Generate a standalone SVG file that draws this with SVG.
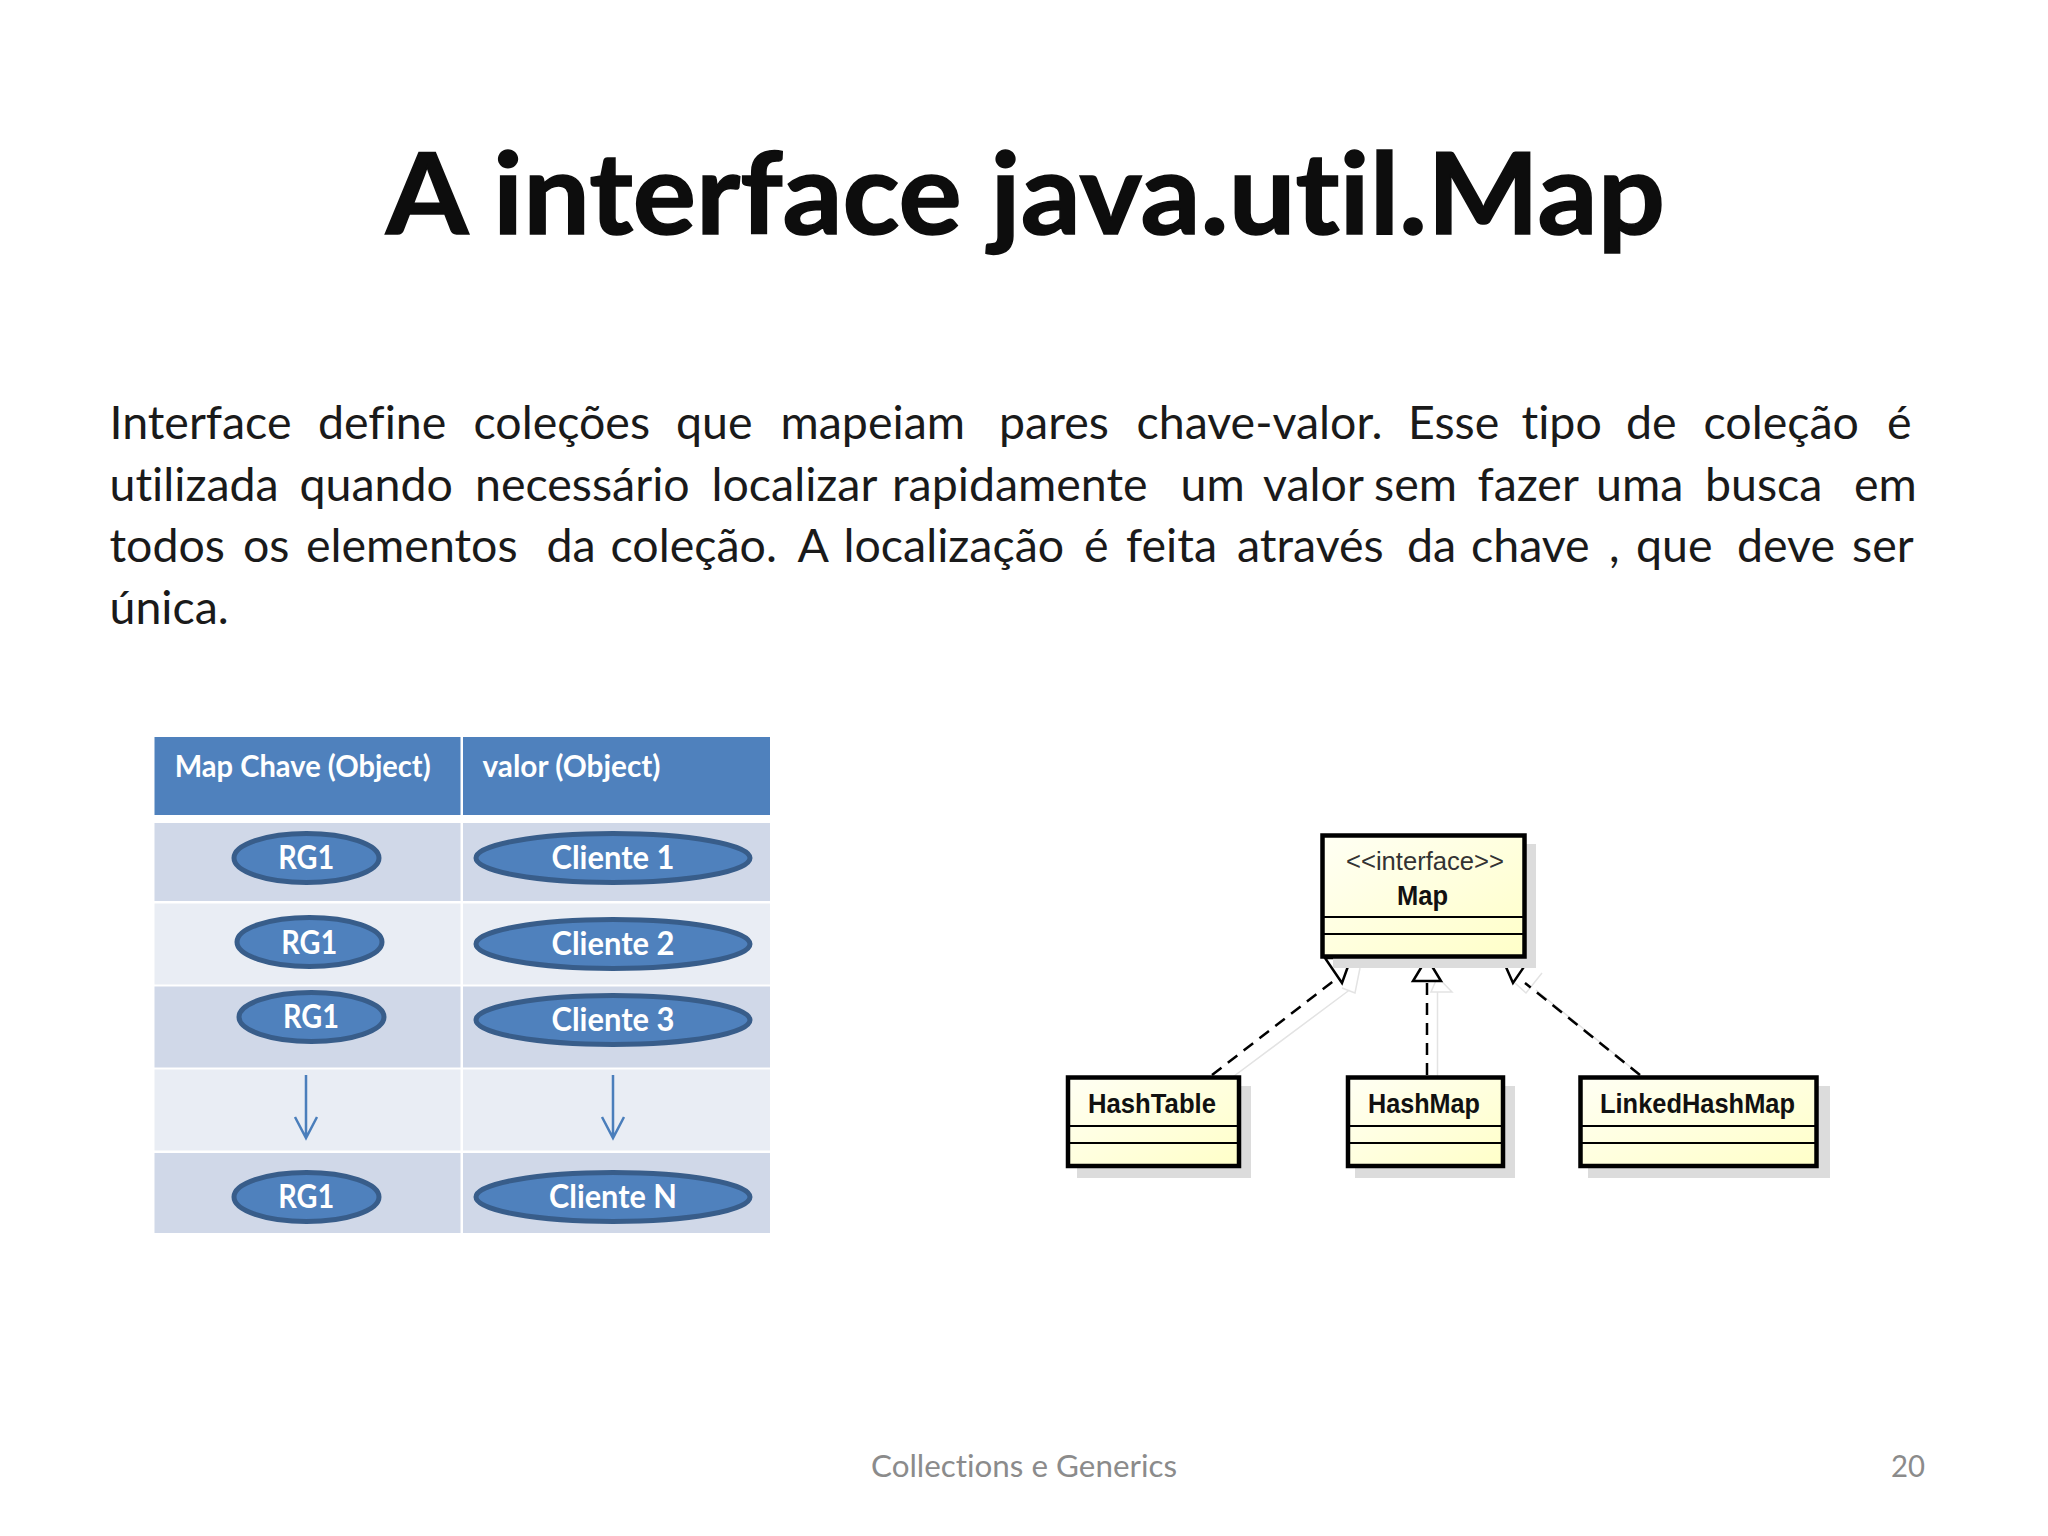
<svg xmlns="http://www.w3.org/2000/svg" width="2048" height="1536" viewBox="0 0 2048 1536">
<style>
text{font-family:"Lato","Open Sans",sans-serif;font-variant-ligatures:none}
.body{font-size:46.500px;fill:#1a1a1a}
.hd{font-size:31px;font-weight:700;fill:#fff}
.el{font-size:32px;font-weight:700;fill:#fff}
.ov{fill:#4f81bd;stroke:#385d8a;stroke-width:5}
.blue{fill:#4f81bd}.dk{fill:#d0d8e8}.lt{fill:#e9edf4}
.arr{fill:none;stroke:#4a7ebb;stroke-width:2.500}
.u{font-family:"Liberation Sans",sans-serif;font-size:28px;font-weight:700;fill:#111}
.box{fill:url(#y);stroke:#000;stroke-width:4.500}
.div{stroke:#000;stroke-width:2}
.sh{fill:#dcdcdc}
.dash{stroke:#000;stroke-width:2.500;stroke-dasharray:12 8;fill:none}
.tri{fill:#fff;stroke:#000;stroke-width:2.500}
.ghost{fill:none;stroke:#e3e3e3;stroke-width:1.500}
.foot{font-size:31px;fill:#8b8b8b}
</style>
<defs><linearGradient id="y" x1="0" y1="0" x2="1" y2="1"><stop offset="0" stop-color="#fffff4"/><stop offset="1" stop-color="#ffffc8"/></linearGradient></defs>
<rect width="2048" height="1536" fill="#fff"/>
<text id="title" x="386" y="234" font-size="113" font-weight="700" fill="#0d0d0d" stroke="#0d0d0d" stroke-width="1.500" textLength="1279" lengthAdjust="spacingAndGlyphs">A interface java.util.Map</text>
<g id="body">
<text class="body" y="438.500"><tspan x="109.500">Interface</tspan><tspan x="318">define</tspan><tspan x="473.500">coleções</tspan><tspan x="676">que</tspan><tspan x="780.500">mapeiam</tspan><tspan x="999">pares</tspan><tspan x="1136.500">chave-valor.</tspan><tspan x="1408">Esse</tspan><tspan x="1521.500">tipo</tspan><tspan x="1626">de</tspan><tspan x="1703.500">coleção</tspan><tspan x="1887">é</tspan></text>
<text class="body" y="500.500"><tspan x="109.500">utilizada</tspan><tspan x="299.500">quando</tspan><tspan x="475">necessário</tspan><tspan x="711.500">localizar</tspan><tspan x="892">rapidamente</tspan><tspan x="1180.500">um</tspan><tspan x="1263">valor</tspan><tspan x="1374">sem</tspan><tspan x="1477.500">fazer</tspan><tspan x="1596">uma</tspan><tspan x="1705">busca</tspan><tspan x="1854">em</tspan></text>
<text class="body" y="562"><tspan x="109.500">todos</tspan><tspan x="243">os</tspan><tspan x="306">elementos</tspan><tspan x="546.500">da</tspan><tspan x="610.500">coleção.</tspan><tspan x="797.500">A</tspan><tspan x="843.500">localização</tspan><tspan x="1084">é</tspan><tspan x="1126">feita</tspan><tspan x="1237">através</tspan><tspan x="1407">da</tspan><tspan x="1471">chave</tspan><tspan x="1609">,</tspan><tspan x="1636">que</tspan><tspan x="1737">deve</tspan><tspan x="1852">ser</tspan></text>
<text class="body" x="109.500" y="624">única.</text>
</g>
<g id="table">
<rect class="blue" x="154.500" y="737" width="306" height="78"/><rect class="blue" x="463" y="737" width="307" height="78"/>
<rect class="dk" x="154.500" y="823" width="306" height="78"/><rect class="dk" x="463" y="823" width="307" height="78"/>
<rect class="lt" x="154.500" y="903.500" width="306" height="81"/><rect class="lt" x="463" y="903.500" width="307" height="81"/>
<rect class="dk" x="154.500" y="986.500" width="306" height="81"/><rect class="dk" x="463" y="986.500" width="307" height="81"/>
<rect class="lt" x="154.500" y="1069.500" width="306" height="81"/><rect class="lt" x="463" y="1069.500" width="307" height="81"/>
<rect class="dk" x="154.500" y="1153" width="306" height="80"/><rect class="dk" x="463" y="1153" width="307" height="80"/>
<text class="hd" x="174.700" y="777" textLength="256" lengthAdjust="spacingAndGlyphs">Map Chave (Object)</text>
<text class="hd" x="482.500" y="777" textLength="178" lengthAdjust="spacingAndGlyphs">valor (Object)</text>
</g>
<g id="rg1a"><ellipse class="ov" cx="306.500" cy="858" rx="72.500" ry="24.500"/><text class="el" x="278.200" y="869" textLength="56" lengthAdjust="spacingAndGlyphs">RG1</text></g>
<g id="rg1b"><ellipse class="ov" cx="309.500" cy="942" rx="72.500" ry="24.500"/><text class="el" x="281.200" y="954" textLength="56" lengthAdjust="spacingAndGlyphs">RG1</text></g>
<g id="rg1c"><ellipse class="ov" cx="311.500" cy="1017" rx="72.500" ry="24.500"/><text class="el" x="283" y="1028" textLength="56" lengthAdjust="spacingAndGlyphs">RG1</text></g>
<g id="rg1d"><ellipse class="ov" cx="306.500" cy="1197" rx="72.500" ry="24.500"/><text class="el" x="278.200" y="1208" textLength="56" lengthAdjust="spacingAndGlyphs">RG1</text></g>
<g id="c1"><ellipse class="ov" cx="613" cy="858" rx="137" ry="24.500"/><text class="el" x="551.500" y="869" textLength="123" lengthAdjust="spacingAndGlyphs">Cliente 1</text></g>
<g id="c2"><ellipse class="ov" cx="613" cy="944" rx="137" ry="24.500"/><text class="el" x="551.500" y="954.500" textLength="123" lengthAdjust="spacingAndGlyphs">Cliente 2</text></g>
<g id="c3"><ellipse class="ov" cx="613" cy="1020" rx="137" ry="24.500"/><text class="el" x="551.500" y="1030.500" textLength="123" lengthAdjust="spacingAndGlyphs">Cliente 3</text></g>
<g id="cn"><ellipse class="ov" cx="613" cy="1197" rx="137" ry="24.500"/><text class="el" x="549" y="1208" textLength="128" lengthAdjust="spacingAndGlyphs">Cliente N</text></g>
<g id="table-arrows" class="arr">
<path d="M306 1075V1138M295 1117L306 1138L317 1117"/>
<path d="M613 1075V1138M602 1117L613 1138L624 1117"/>
</g>
<g id="connectors">
<path class="ghost" d="M1218 1088L1349.500 990M1342 988L1355 993L1360 968M1437.500 992V1088M1431 992H1452L1437.500 977ZM1536 990L1655 1087M1515 983L1526 993L1542 973"/>
<path class="dash" d="M1212 1075L1340 976"/>
<path class="tri" d="M1325 958L1351 958L1342 983Z"/>
<path class="dash" d="M1427 1075V981"/>
<path class="tri" d="M1427 958L1441 981H1413Z"/>
<path class="dash" d="M1640 1075L1525 983"/>
<path class="tri" d="M1502 958L1530 958L1513 983Z"/>
</g>
<g id="map"><rect class="sh" x="1333" y="844" width="203" height="124"/><rect class="box" x="1322.500" y="835.500" width="202" height="121"/><path class="div" d="M1322 917H1525M1322 934H1525"/>
<text class="u" x="1346" y="870" fill="#333" style="font-weight:400;font-size:25px;fill:#333" textLength="158" lengthAdjust="spacingAndGlyphs">&lt;&lt;interface&gt;&gt;</text>
<text class="u" x="1397" y="905" textLength="51" lengthAdjust="spacingAndGlyphs">Map</text></g>
<g id="hashtable"><rect class="sh" x="1077" y="1086" width="174" height="92"/><rect class="box" x="1068" y="1077.500" width="171" height="88.500"/><path class="div" d="M1068 1126H1239M1068 1143H1239"/>
<text class="u" x="1088" y="1113" textLength="128" lengthAdjust="spacingAndGlyphs">HashTable</text></g>
<g id="hashmap"><rect class="sh" x="1355" y="1086" width="160" height="92"/><rect class="box" x="1348" y="1077.500" width="155" height="88.500"/><path class="div" d="M1348 1126H1503M1348 1143H1503"/>
<text class="u" x="1368" y="1113" textLength="112" lengthAdjust="spacingAndGlyphs">HashMap</text></g>
<g id="linkedhashmap"><rect class="sh" x="1588" y="1086" width="242" height="92"/><rect class="box" x="1580.500" y="1077.500" width="236" height="88.500"/><path class="div" d="M1580 1126H1817M1580 1143H1817"/>
<text class="u" x="1600" y="1113" textLength="195" lengthAdjust="spacingAndGlyphs">LinkedHashMap</text></g>
<g id="footer"><text class="foot" x="871" y="1477" textLength="306" lengthAdjust="spacingAndGlyphs">Collections e Generics</text><text class="foot" x="1891" y="1477" textLength="34" lengthAdjust="spacingAndGlyphs">20</text></g>
</svg>
